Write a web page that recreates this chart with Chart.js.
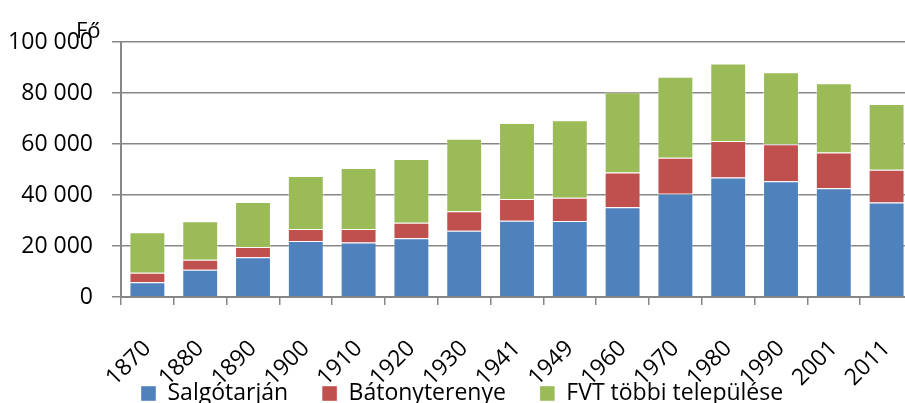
<!DOCTYPE html>
<html>
<head>
<meta charset="utf-8">
<script src="https://cdn.jsdelivr.net/npm/chart.js@4.4.1/dist/chart.umd.min.js"></script>
<style>
  html, body { margin: 0; padding: 0; background: #fff; overflow: hidden; }
  #wrap { width: 905px; height: 403px; overflow: hidden; }
</style>
</head>
<body>
<div id="wrap"><canvas id="chart" width="920" height="454"></canvas></div>
<script>
const years = ["1870", "1880", "1890", "1900", "1910", "1920", "1930", "1941", "1949", "1960", "1970", "1980", "1990", "2001", "2011"];
const salgotarjan = [5800, 10700, 15600, 22000, 21400, 23000, 26000, 29900, 29800, 35200, 40500, 46900, 45400, 42600, 37100];
const batonyterenye = [3700, 3900, 4000, 4700, 5300, 6100, 7600, 8500, 9100, 13600, 14100, 14300, 14500, 14100, 12800];
const fvtTobbi = [15900, 15100, 17700, 20800, 23900, 25000, 28500, 29800, 30400, 31500, 31800, 30400, 28200, 27100, 25800];
const seriesNames = ["Salgótarján", "Bátonyterenye", "FVT többi települése"];
const yTicks = [0, 20000, 40000, 60000, 80000, 100000];

const FONT = "'Open Sans'";
const axisGray = "#878787";

// "Fő" unit label above the y axis
const unitLabel = {
  id: "unitLabel",
  afterDraw(chart) {
    const { ctx, chartArea } = chart;
    ctx.save();
    ctx.font = "22px " + FONT;
    ctx.fillStyle = "#000";
    ctx.textAlign = "left";
    ctx.textBaseline = "alphabetic";
    ctx.fillText("Fő", chartArea.left - 45, chartArea.top - 4);
    ctx.restore();
  },
};

// the rotated year labels need a tall x scale, so pull the legend back up over it
const legendUp = {
  id: "legendUp",
  afterLayout(chart) {
    const lg = chart.legend;
    const w = lg.width;
    const h = lg.height;
    lg.top = chart.chartArea.bottom + 51;
    lg.bottom = lg.top + h;
    lg.left = 107;
    lg.right = lg.left + w;
  },
};

function spaced(v) {
  return String(v).replace(/\B(?=(\d{3})+(?!\d))/g, " ");
}

const ctx = document.getElementById("chart").getContext("2d");
new Chart(ctx, {
  type: "bar",
  data: {
    labels: years,
    datasets: [
      {
        label: seriesNames[0],
        data: salgotarjan,
        backgroundColor: "#4F81BD",
        borderColor: "rgba(255,255,255,0.4)",
        borderWidth: 1,
      },
      {
        label: seriesNames[1],
        data: batonyterenye,
        backgroundColor: "#C0504D",
        borderColor: "rgba(255,255,255,0.4)",
        borderWidth: 1,
      },
      {
        label: seriesNames[2],
        data: fvtTobbi,
        backgroundColor: "#9BBB59",
        borderColor: "rgba(255,255,255,0.4)",
        borderWidth: 1,
      },
    ],
  },
  options: {
    responsive: false,
    animation: false,
    barPercentage: 0.68,
    categoryPercentage: 1,
    layout: { padding: { top: 42, right: 7, left: 0, bottom: 0 } },
    plugins: {
      tooltip: { enabled: false },
      legend: {
        position: "bottom",
        align: "start",
        labels: {
          font: { family: FONT, size: 23 },
          color: "#000",
          boxWidth: 15,
          boxHeight: 15,
          padding: 34,
        },
      },
    },
    scales: {
      x: {
        stacked: true,
        grid: {
          offset: true,
          drawOnChartArea: false,
          tickLength: 8,
          color: axisGray,
          lineWidth: 1.5,
        },
        border: { color: axisGray, width: 2 },
        ticks: {
          autoSkip: false,
          minRotation: 45,
          maxRotation: 45,
          padding: 30,
          color: "#000",
          font: { family: FONT, size: 23 },
        },
        afterFit(scale) {
          scale.height = 90;
          scale.paddingLeft = 0;
          scale.paddingRight = 0;
        },
      },
      y: {
        stacked: true,
        min: 0,
        max: 100000,
        afterBuildTicks(scale) {
          scale.ticks = yTicks.map((v) => ({ value: v }));
        },
        grid: { color: axisGray, lineWidth: 1.5, tickLength: 9 },
        border: { color: axisGray, width: 2 },
        ticks: {
          padding: 19,
          color: "#000",
          font: { family: FONT, size: 23 },
          callback: (v) => spaced(v),
        },
        afterFit(scale) {
          scale.width = 121;
        },
      },
    },
  },
  plugins: [unitLabel, legendUp],
});
</script>
</body>
</html>
